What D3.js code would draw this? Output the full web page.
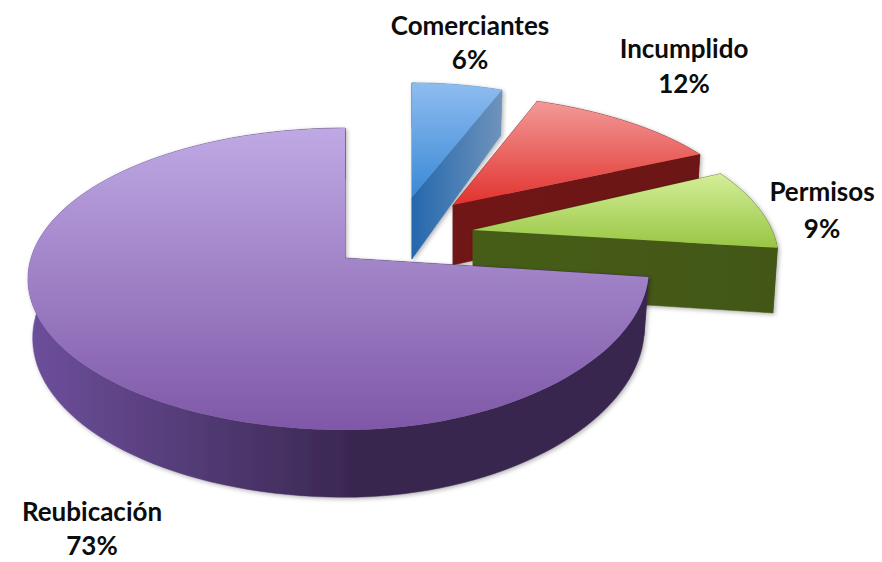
<!DOCTYPE html>
<html>
<head>
<meta charset="utf-8">
<style>html,body{margin:0;padding:0;background:#fff}svg{display:block}</style>
<script src="https://cdn.jsdelivr.net/npm/d3@7"></script>
</head>
<body>
<div id="chart"></div>
<script>
// Data
const categories = ["Comerciantes", "Incumplido", "Permisos", "Reubicación"];
const values = [6, 12, 9, 73];

// Layout and style, per slice
const apexX = [412, 453, 473, 345];
const apexY = [197, 205, 230, 258];
const radiusRight = [276, 296, 299, 303];
const radiusLeft = [276, 296, 299, 314];
const radiusY = [130, 126, 140, 148];
const skew = [0, 15, 20, 0];
const frontSkew = [0, 0, 0, -19];
const depth = [62, 60, 64, 58];
const depthPower = [2.5, 1, 1, 1];
const topColors = [["#8fbcf0", "#3a8ad6"], ["#f29a98", "#e2322e"], ["#d4ee98", "#98c644"], ["#bfa9e4", "#7f58a8"]];
const sideColors = [["#2568ae", "#6f93ba"], ["#701515", "#6c1414"], ["#465d18", "#435716"], ["#6d4f9c", "#38264f"]];
const labelX = [470, 684, 822, 92];
const labelY = [[35, 69], [58, 93], [201, 238], [521, 555]];
const perspective = 0.139;

const width = 882, height = 562;
const svg = d3.select("#chart").append("svg").attr("width", width).attr("height", height)
  .attr("font-family", "Lato, Carlito, sans-serif");
const defs = svg.append("defs");

const filter = defs.append("filter").attr("id", "soft").attr("x", "-5%").attr("y", "-5%").attr("width", "110%").attr("height", "110%");
filter.append("feDropShadow").attr("dx", 1.5).attr("dy", 1.5).attr("stdDeviation", 2)
  .attr("flood-color", "#000").attr("flood-opacity", 0.3);

const pie = d3.pie().sort(null).value(d => d);
const arcs = pie(values);
const line = d3.line().curve(d3.curveLinear);

function project(i, angle) {
  const X = Math.sin(angle), Y = -Math.cos(angle);
  const den = 1 - perspective * Y;
  const A = X >= 0 ? radiusRight[i] : radiusLeft[i];
  const front = (X > 0 && Y > 0) ? frontSkew[i] * X * Y : 0;
  return { x: (A * X + skew[i] * Y + front) / den, y: radiusY[i] * Y / den, den };
}
function topPoint(i, a) {
  const p = project(i, a);
  return [apexX[i] + p.x, apexY[i] + p.y];
}
function bottomPoint(i, a) {
  const p = project(i, a);
  return [apexX[i] + p.x * 0.985, apexY[i] + p.y + depth[i] / Math.pow(p.den, depthPower[i])];
}
function apexTop(i) { return [apexX[i], apexY[i]]; }
function apexBottom(i) { return [apexX[i], apexY[i] + depth[i]]; }

arcs.forEach((d, i) => {
  const angles = d3.range(0, 121).map(k => d.startAngle + (d.endAngle - d.startAngle) * k / 120);
  const rim = angles.map(a => topPoint(i, a));
  const rimLow = angles.map(a => bottomPoint(i, a));
  const outline = [apexTop(i), ...rim];
  const ys = outline.map(p => p[1]);
  const allX = rim.concat(rimLow).concat([apexTop(i)]).map(p => p[0]);

  const gradTop = defs.append("linearGradient").attr("id", "top" + i)
    .attr("gradientUnits", "userSpaceOnUse")
    .attr("x1", 0).attr("x2", 0).attr("y1", d3.min(ys)).attr("y2", d3.max(ys));
  gradTop.append("stop").attr("offset", 0).attr("stop-color", topColors[i][0]);
  gradTop.append("stop").attr("offset", 1).attr("stop-color", topColors[i][1]);

  const gradSide = defs.append("linearGradient").attr("id", "side" + i)
    .attr("gradientUnits", "userSpaceOnUse")
    .attr("y1", 0).attr("y2", 0).attr("x1", d3.min(allX)).attr("x2", i === 3 ? apexX[i] + 20 : d3.max(allX));
  gradSide.append("stop").attr("offset", 0).attr("stop-color", sideColors[i][0]);
  gradSide.append("stop").attr("offset", 1).attr("stop-color", sideColors[i][1]);

  const g = svg.append("g").attr("class", "slice").attr("filter", "url(#soft)");
  const side = [
    [apexTop(i), rim[0], rimLow[0], apexBottom(i)],
    [apexTop(i), rim[120], rimLow[120], apexBottom(i)],
    [...rim, ...rimLow.slice().reverse()]
  ];
  g.selectAll("path.side").data(side).join("path").attr("class", "side")
    .attr("d", p => line(p) + "Z").attr("fill", `url(#side${i})`).attr("stroke", `url(#side${i})`).attr("stroke-width", 0.5);
  g.append("path").attr("class", "top").attr("d", line(outline) + "Z").attr("fill", `url(#top${i})`);
});

const labels = svg.selectAll("g.label").data(categories).join("g").attr("class", "label");
labels.append("text").attr("x", (d, i) => labelX[i]).attr("y", (d, i) => labelY[i][0])
  .attr("text-anchor", "middle").attr("font-size", 26).attr("font-weight", 700).attr("fill", "#0c0c0c").text(d => d);
labels.append("text").attr("x", (d, i) => labelX[i]).attr("y", (d, i) => labelY[i][1])
  .attr("text-anchor", "middle").attr("font-size", 26).attr("font-weight", 700).attr("fill", "#0c0c0c").text((d, i) => values[i] + "%");
</script>
</body>
</html>
